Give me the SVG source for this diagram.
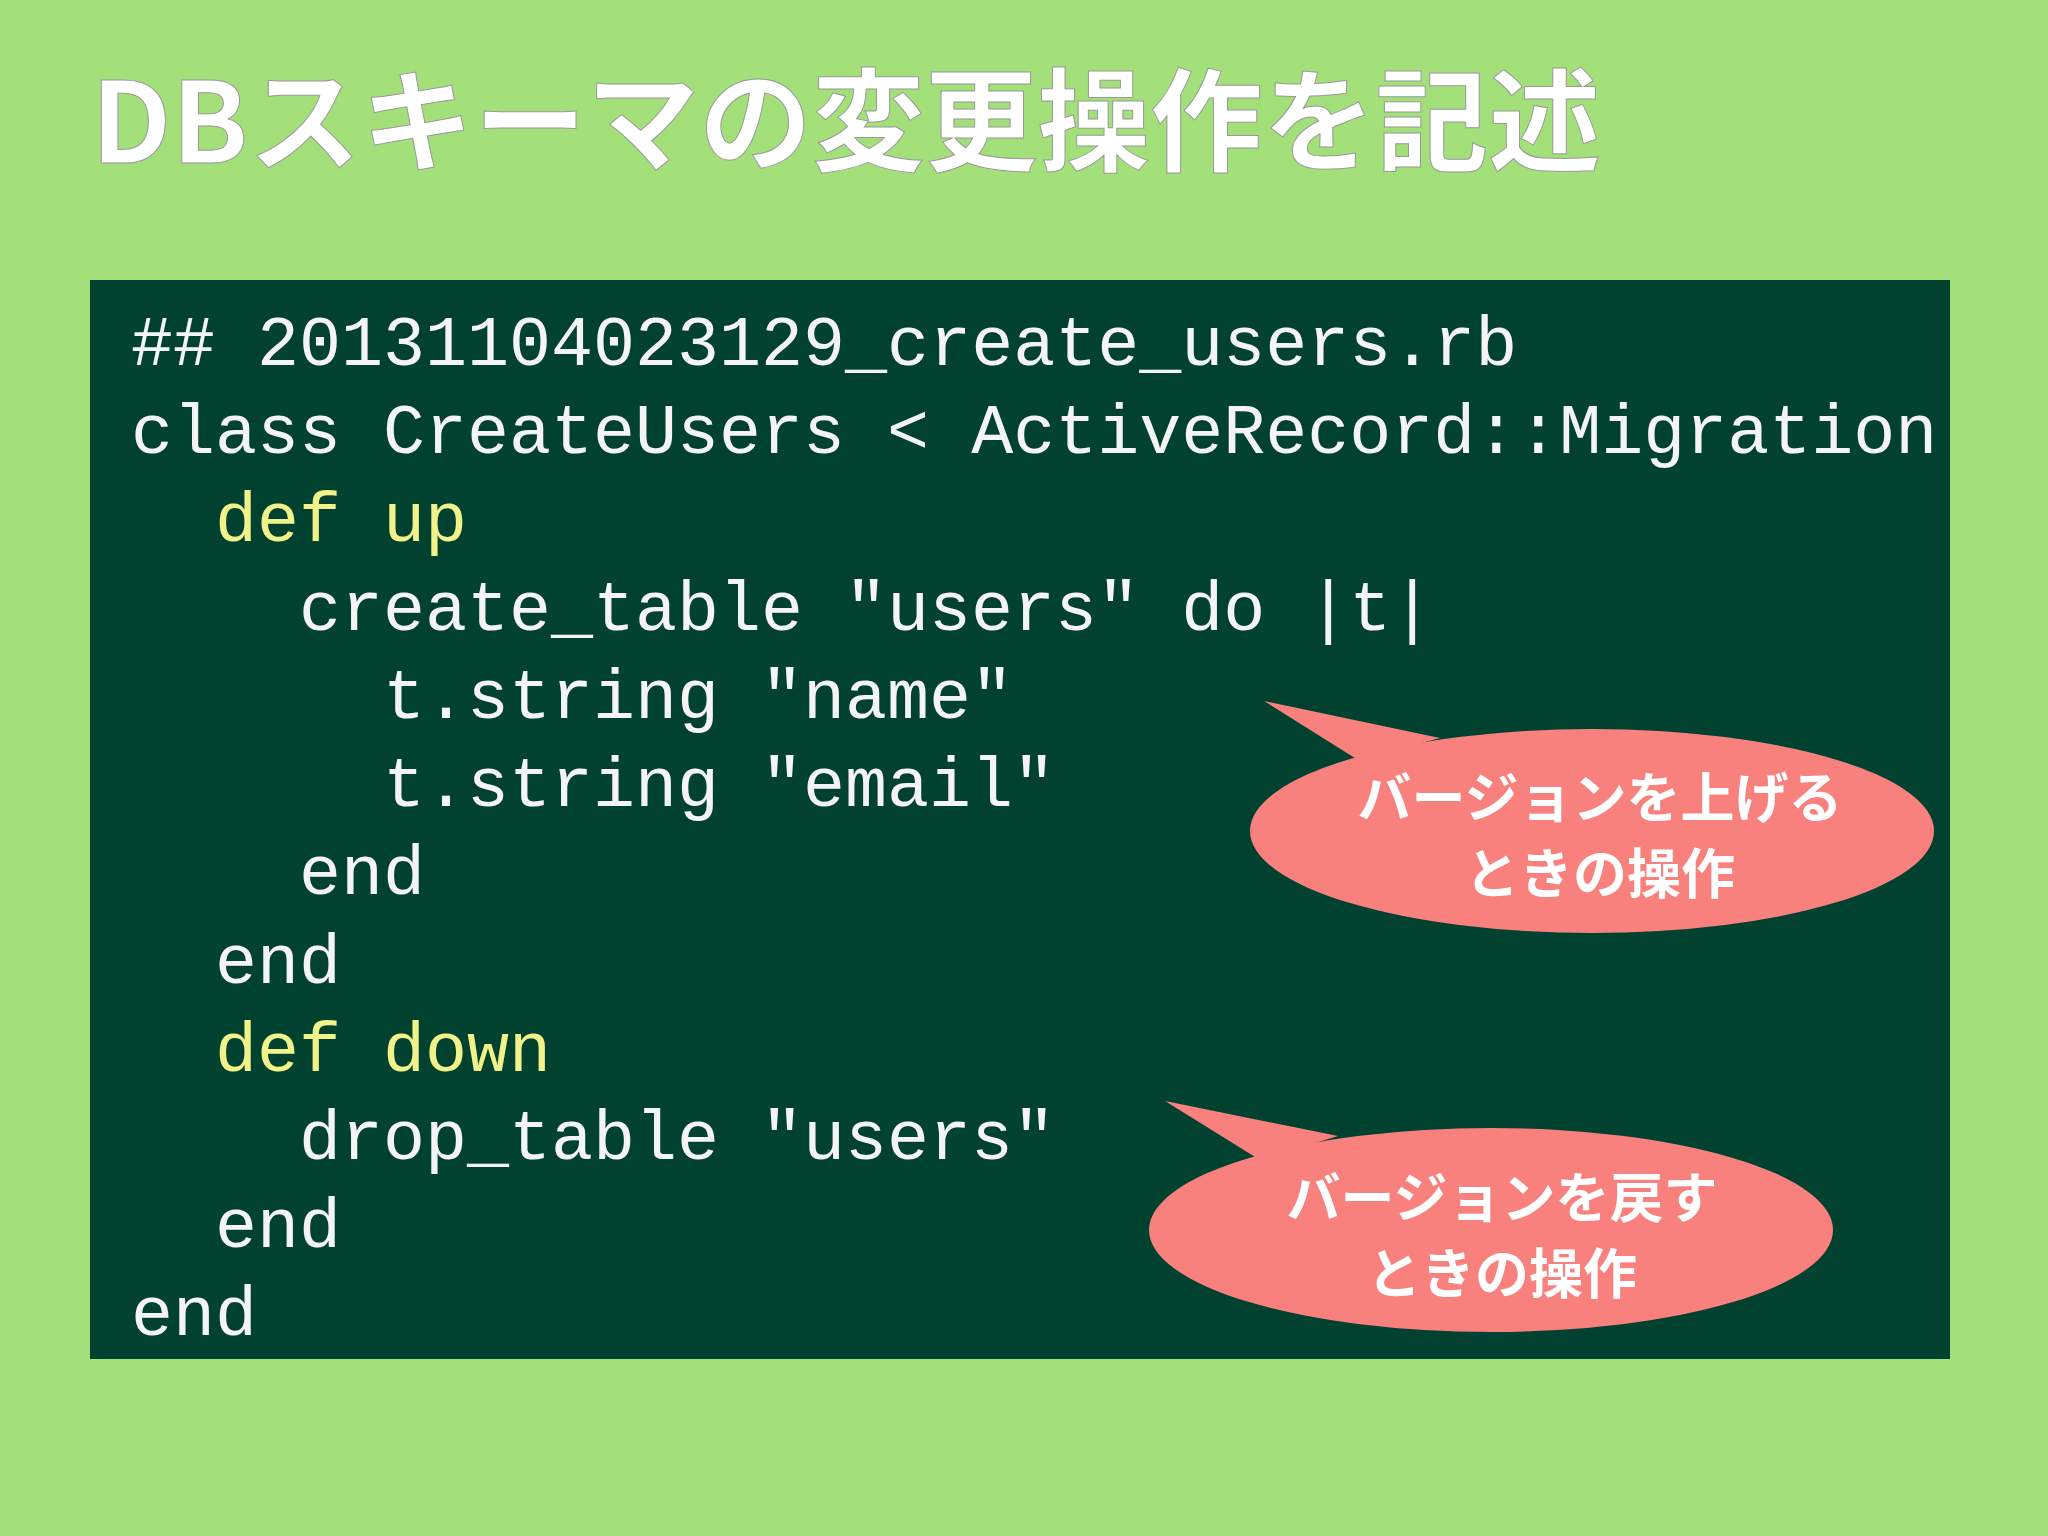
<svg xmlns="http://www.w3.org/2000/svg" width="2048" height="1536" viewBox="0 0 2048 1536">
<style>
.code{font-family:"Liberation Mono","DejaVu Sans Mono",monospace;font-size:70px;fill:#f4f4f4}
.kw{fill:#f2f28a}
.bt{font-family:"Noto Sans CJK JP",sans-serif;font-weight:bold;font-size:54px;fill:#fff;text-anchor:middle}
.bub{fill:#f8817e}
</style>
<rect width="2048" height="1536" fill="#a3e07a"/>
<text x="91" y="163" font-family="'Noto Sans CJK JP',sans-serif" font-weight="bold" font-size="112" fill="#fff" stroke="#999" stroke-width="1" textLength="1510" lengthAdjust="spacingAndGlyphs">DBスキーマの変更操作を記述</text>
<rect x="90" y="280" width="1860" height="1079" fill="#00412f"/>
<g id="code">
<text class="code" x="131" y="365">## 20131104023129_create_users.rb</text>
<text class="code" x="131" y="453">class CreateUsers &lt; ActiveRecord::Migration</text>
<text class="code kw" x="215" y="541">def up</text>
<text class="code" x="299" y="630">create_table "users" do |t|</text>
<text class="code" x="383" y="718">t.string "name"</text>
<text class="code" x="383" y="806">t.string "email"</text>
<text class="code" x="299" y="894">end</text>
<text class="code" x="215" y="983">end</text>
<text class="code kw" x="215" y="1071">def down</text>
<text class="code" x="299" y="1159">drop_table "users"</text>
<text class="code" x="215" y="1247">end</text>
<text class="code" x="131" y="1335">end</text>
</g>
<g id="bubble-up">
<ellipse class="bub" cx="1592" cy="831" rx="342" ry="102"/>
<polygon class="bub" points="1264,701 1358,760 1440,738"/>
<text class="bt" x="1600" y="818">バージョンを上げる</text>
<text class="bt" x="1600" y="894">ときの操作</text>
</g>
<g id="bubble-down">
<ellipse class="bub" cx="1491" cy="1230" rx="342" ry="102"/>
<polygon class="bub" points="1165,1101 1260,1160 1338,1136"/>
<text class="bt" x="1502" y="1218">バージョンを戻す</text>
<text class="bt" x="1502" y="1294">ときの操作</text>
</g>
</svg>
